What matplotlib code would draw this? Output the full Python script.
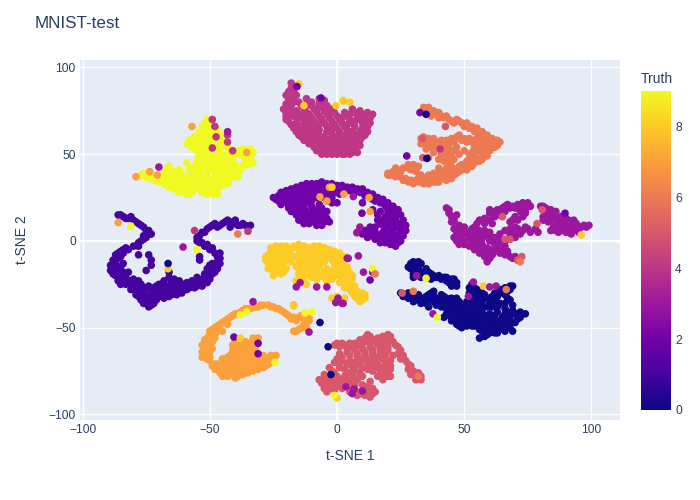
# t-SNE scatter of the MNIST test set, coloured by true digit

import matplotlib
matplotlib.use("Agg")
import matplotlib.pyplot as plt
from matplotlib.colors import LinearSegmentedColormap

PLASMA = ["#0d0887", "#46039f", "#7201a8", "#9c179e", "#bd3786",
          "#d8576b", "#ed7953", "#fb9f3a", "#fdca26", "#f0f921"]
TEXT = "#2a3f5f"

digit_0 = [(29, -13), (31, -14), (33, -13), (29, -16), (32, -16), (35, -16), (30, -19), (33, -19), (30, -21), (33, -21),
           (36, -18), (38, -20), (36, -21), (40, -20), (41, -22), (43, -21), (45, -22), (46, -24), (44, -24), (47, -26), (45, -26),
           (25, -30), (27, -31), (29, -31), (31, -32), (28, -33), (33, -33), (30, -35), (33, -36), (35, -32), (37, -30), (37, -33),
           (35, -36), (38, -35), (36, -38), (40, -34), (42, -32), (39, -37), (42, -36), (44, -35), (47, -33), (45, -37), (43, -39),
           (46, -39), (48, -37), (50, -38), (42, -44), (44, -43), (46, -44), (48, -42), (50, -42), (52, -40), (47, -46), (49, -45),
           (52, -44), (48, -49), (50, -48), (52, -47), (54, -46), (53, -25), (55, -28), (54, -31), (52, -30), (57, -30), (55, -34),
           (58, -33), (53, -37), (56, -37), (60, -36), (54, -41), (57, -41), (60, -42), (55, -44), (58, -45), (61, -46), (56, -48),
           (59, -49), (62, -50), (64, -48), (57, -52), (60, -53), (58, -55), (56, -56), (63, -53), (66, -52), (69, -52), (67, -48),
           (70, -47), (72, -44), (74, -42), (70, -42), (68, -44), (65, -44), (63, -41), (66, -39), (69, -37), (64, -36), (67, -33),
           (62, -33), (65, -30), (68, -28), (69, -26), (66, -27), (62, -30),
           (30, -12), (32, -12), (28, -15), (31, -17), (34, -18), (31, -20), (34, -20), (37, -19), (39, -21), (37, -22), (42, -21),
           (44, -23), (46, -22), (47, -24), (45, -25), (43, -23), (26, -32), (28, -30), (30, -33), (32, -31), (34, -34), (32, -34),
           (36, -31), (38, -32), (36, -34), (38, -29), (39, -33), (41, -31), (43, -33), (41, -35), (43, -37), (45, -33), (46, -35),
           (48, -35), (44, -38), (41, -38), (47, -39), (49, -40), (51, -36), (45, -41), (47, -43), (49, -43), (51, -44), (53, -42),
           (45, -46), (43, -42), (50, -46), (47, -48), (49, -50), (51, -49), (53, -49), (55, -46), (52, -27), (54, -27), (52, -33),
           (54, -33), (56, -31), (58, -31), (60, -33), (62, -35), (51, -35), (53, -35), (55, -36), (57, -35), (59, -38), (61, -38),
           (63, -38), (52, -38), (55, -39), (57, -38), (53, -43), (56, -42), (58, -43), (60, -44), (62, -43), (64, -46), (66, -46),
           (68, -47), (55, -47), (57, -46), (59, -47), (61, -48), (63, -47), (66, -42), (67, -41), (69, -40), (72, -41), (71, -45),
           (68, -50), (65, -50), (62, -53), (60, -51), (58, -50), (56, -51), (54, -49), (59, -54), (61, -52), (64, -51), (66, -36),
           (68, -34), (66, -31), (63, -32), (64, -28), (67, -29), (68, -26), (61, -32)]
digit_1 = [(-86, 15), (-84, 14), (-82, 13), (-80, 12), (-78, 10), (-76, 8), (-75, 6), (-74, 4), (-75, 2), (-77, 0), (-78, -1),
           (-80, -3), (-83, -4), (-85, -6), (-87, -8), (-85, -9), (-88, -11), (-89, -14), (-89, -17), (-87, -17), (-85, -15),
           (-87, -20), (-85, -20), (-86, -23), (-83, -21), (-81, -24), (-83, -25), (-79, -26), (-78, -23), (-76, -29), (-78, -29),
           (-74, -26), (-72, -30), (-74, -32), (-77, -34), (-75, -35), (-73, -37), (-71, -34), (-69, -32), (-70, -28), (-67, -26),
           (-67, -30), (-65, -24), (-64, -28), (-62, -26), (-61, -30), (-59, -28), (-60, -25), (-57, -25), (-55, -24), (-53, -26),
           (-52, -22), (-50, -22), (-52, -19), (-49, -19), (-51, -16), (-48, -15), (-47, -12), (-46, -10), (-48, -7), (-50, -5),
           (-52, -3), (-54, -1), (-55, 2), (-53, 5), (-51, 7), (-49, 9), (-47, 8), (-45, 10), (-43, 12), (-41, 10), (-39, 9),
           (-37, 10), (-35, 8), (-78, -8), (-74, -8), (-73, -11), (-73, -14), (-75, -17), (-84, -13), (-54, -9), (-54, -11), (-66, -18),
           (-85, 15), (-83, 13), (-81, 14), (-79, 11), (-77, 9), (-74, 6), (-73, 4), (-76, 1), (-76, 3), (-78, -3), (-82, -5), (-84, -5),
           (-86, -7), (-86, -10), (-84, -7), (-87, -13), (-88, -16), (-86, -15), (-88, -19), (-86, -18), (-84, -18), (-84, -22),
           (-82, -23), (-85, -25), (-80, -27), (-80, -24), (-81, -28), (-77, -27), (-75, -27), (-77, -31), (-79, -31), (-75, -31),
           (-73, -28), (-72, -33), (-76, -36), (-74, -38), (-72, -36), (-70, -31), (-68, -29), (-68, -33), (-66, -28), (-65, -31),
           (-63, -29), (-63, -25), (-62, -29), (-60, -28), (-58, -27), (-59, -24), (-56, -27), (-55, -21), (-54, -24), (-51, -24),
           (-53, -22), (-50, -20), (-48, -18), (-50, -14), (-49, -13), (-47, -9), (-46, -7), (-49, -4), (-51, -2), (-53, -1), (-55, 0),
           (-54, 3), (-52, 5), (-50, 8), (-48, 10), (-46, 9), (-44, 11), (-42, 11), (-40, 12), (-38, 9), (-36, 9), (-34, 9), (-42, 8),
           (-72, -27), (-71, -26), (-69, -25), (-68, -23), (-66, -21), (-64, -22), (-62, -23), (-66, -32), (-63, -31), (-70, -25),
           (-65, -27), (-79, -29), (-82, -18), (-80, -22), (-77, -25), (-78, -32), (-73, -34), (-57, -23), (-55, -26), (-53, -24),
           (-50, -19), (-47, -16), (-46, -13), (-50, -17)]
digit_2 = [(-25, 25), (-23, 26), (-22, 28), (-20, 29), (-18, 30), (-16, 31), (-14, 32), (-12, 33), (-10, 33), (-8, 33), (-6, 34),
           (-4, 33), (-2, 33), (0, 32), (2, 32), (4, 31), (6, 31), (8, 30), (10, 30), (12, 28), (14, 27), (16, 25), (18, 24),
           (20, 22), (22, 20), (24, 18), (25, 15), (26, 12), (27, 9), (27, 6), (26, 3), (25, 0), (23, -3), (21, -2), (19, -1), (17, -1),
           (-23, 23), (-21, 25), (-19, 26), (-17, 27), (-15, 28), (-13, 29), (-11, 29), (-9, 29), (-7, 29), (-20, 22), (-18, 23),
           (-16, 24), (-13, 24), (-11, 25), (-8, 25), (-5, 28), (-3, 27), (-1, 28), (1, 27), (-19, 19), (-17, 20), (-15, 18),
           (-13, 19), (-10, 20), (-7, 21), (-4, 23), (-2, 22), (0, 22), (-16, 15), (-14, 14), (-12, 15), (-10, 16), (-7, 17),
           (-4, 17), (-13, 10), (-11, 12), (-9, 11), (-7, 12), (-5, 11), (-3, 11), (10, 22), (14, 24), (18, 22), (16, 12), (21, 12),
           (25, 10), (13, 5), (18, 5), (22, 5), (20, 0), (8, 5), (10, 4), (15, 8), (18, 9), (23, 8), (20, 17), (23, 14), (17, 17),
           (14, 18), (12, 2), (15, 1), (22, 1), (19, 3),
           (-24, 24), (-21, 27), (-19, 28), (-17, 29), (-15, 30), (-13, 31), (-11, 31), (-9, 31), (-7, 32), (-5, 32), (-3, 31), (-1, 31),
           (1, 30), (3, 30), (5, 29), (7, 28), (9, 28), (11, 26), (13, 25), (15, 23), (17, 22), (19, 20), (21, 18), (22, 16), (23, 12),
           (16, 15), (19, 14), (22, 11), (24, 8), (25, 5), (24, 2), (21, 7), (19, 7), (17, 10), (15, 5), (13, 8), (11, 6), (16, 3), (18, 1),
           (20, 3), (22, -1), (24, -1), (17, 1), (14, 3), (20, 10), (18, 12), (23, 3), (25, 7), (21, 15), (-22, 21), (-20, 24), (-18, 21),
           (-16, 21), (-14, 22), (-12, 22), (-10, 23), (-9, 27), (-7, 26), (-14, 26), (-12, 27), (-5, 25), (-2, 25), (-18, 17), (-16, 17),
           (-14, 16), (-12, 17), (-9, 18), (-6, 19), (-15, 12), (-13, 13), (-10, 14), (-8, 14), (-11, 10), (-8, 9), (-6, 9), (-4, 13), (-6, 15)]
digit_3 = [(43, 19), (44, 16), (45, 14), (47, 15), (46, 11), (48, 9), (46, 7), (50, 8), (47, 3), (49, 4), (47, 0), (49, 0), (52, 2),
           (50, -2), (52, -3), (54, -5), (56, -7), (58, -9), (59, -12), (60, -8), (62, -6), (64, -7), (66, -8), (68, -9), (71, -11),
           (55, 10), (53, 7), (56, 6), (58, 3), (55, 1), (53, -1), (57, -2), (60, 0), (59, -4), (62, -2), (64, 1), (66, -3), (68, 4),
           (66, 6), (70, 2), (58, 13), (60, 16), (62, 14), (61, 10), (63, 18), (65, 19), (67, 21), (69, 20), (71, 21), (73, 22),
           (75, 22), (76, 20), (74, 18), (73, 14), (70, 14), (68, 11), (70, 8), (73, 6), (76, 5), (79, 5), (80, 20), (82, 19),
           (84, 18), (86, 17), (84, 15), (81, 14), (83, 11), (86, 13), (88, 14), (90, 13), (93, 12), (91, 9), (88, 10), (85, 8),
           (84, 6), (87, 5), (90, 5), (93, 6), (95, 5), (96, 8), (99, 9), (93, 9),
           (44, 18), (46, 13), (45, 11), (47, 5), (49, 7), (46, 2), (48, 1), (50, 0), (51, 4), (48, -2), (53, 1), (54, -2), (55, -4), (57, -4),
           (58, -6), (60, -5), (60, -10), (61, -8), (63, -5), (65, -6), (67, -6), (69, -10), (70, -9), (54, 8), (52, 5), (54, 4), (56, 3),
           (58, 6), (60, 5), (57, 1), (60, 3), (62, 2), (64, 4), (55, -1), (64, -2), (66, 0), (68, 1), (70, 5), (72, 4), (68, 7), (56, 12),
           (58, 10), (60, 12), (60, 18), (62, 17), (64, 17), (66, 20), (64, 15), (66, 17), (68, 19), (70, 19), (72, 19), (72, 17), (74, 16),
           (71, 12), (69, 12), (71, 7), (74, 8), (75, 7), (78, 7), (81, 20), (83, 17), (85, 15), (82, 15), (81, 12), (84, 12), (87, 12),
           (89, 11), (91, 12), (94, 10), (92, 7), (89, 8), (86, 9), (86, 6), (88, 6), (90, 7), (92, 4), (94, 7), (97, 9), (98, 8), (95, 8)]
digit_4 = [(-18, 91), (-17, 88), (-19, 86), (-16, 84), (-19, 82), (-20, 79), (-17, 80), (-14, 78), (-19, 76), (-16, 75), (-13, 76),
           (-10, 78), (-7, 79), (-5, 80), (-20, 72), (-18, 72), (-15, 71), (-11, 73), (-8, 74), (-5, 75), (-2, 76), (-19, 69),
           (-16, 68), (-13, 68), (-9, 69), (-6, 70), (-3, 71), (0, 72), (3, 74), (6, 76), (9, 75), (12, 74), (14, 73), (-17, 65),
           (-14, 64), (-11, 65), (-7, 64), (-4, 66), (-1, 67), (2, 68), (5, 70), (8, 71), (11, 70), (13, 68), (-15, 61), (-12, 60),
           (-9, 61), (-5, 60), (-2, 62), (1, 63), (4, 64), (7, 66), (10, 65), (11, 61), (-11, 56), (-8, 56), (-5, 55), (-2, 56),
           (1, 58), (4, 58), (7, 60), (9, 58), (-8, 52), (-5, 52), (-2, 52), (1, 53), (3, 50), (5, 53), (7, 54), (8, 51), (0, 50), (-4, 50),
           (-18, 88), (-20, 84), (-17, 86), (-18, 83), (-18, 78), (-15, 80), (-12, 78), (-9, 76), (-6, 77), (-4, 78), (-21, 76), (-17, 73),
           (-14, 73), (-13, 72), (-10, 71), (-7, 72), (-4, 73), (-1, 74), (2, 71), (5, 73), (8, 73), (11, 72), (13, 71), (-20, 70), (-18, 67),
           (-15, 66), (-12, 66), (-9, 66), (-5, 68), (-2, 69), (1, 70), (4, 67), (7, 69), (10, 68), (12, 66), (-16, 63), (-13, 62), (-10, 63),
           (-7, 61), (-4, 63), (0, 60), (3, 61), (6, 63), (9, 63), (12, 63), (-13, 58), (-10, 58), (-7, 58), (-3, 58), (0, 55), (3, 55), (6, 57),
           (9, 55), (-9, 54), (-6, 54), (-3, 54), (2, 52), (5, 50),
           (-12, 82), (-10, 80), (-7, 82), (-5, 81), (-16, 71), (-12, 70), (-10, 68), (-7, 67), (-3, 65), (0, 65), (3, 66), (6, 68), (9, 70),
           (-12, 63), (-8, 63), (-2, 60), (2, 60), (5, 61), (8, 61), (10, 60), (-10, 60), (-9, 58), (-6, 60), (-5, 57), (-1, 58), (2, 56), (5, 56),
           (8, 56), (-6, 50), (-2, 50), (2, 50), (6, 51), (-1, 54), (4, 52), (-20, 74), (-18, 75), (-12, 74), (-8, 76), (-3, 74), (4, 72), (7, 74),
           (10, 73), (-2, 65), (-14, 60)]
digit_5 = [(-1, -60), (1, -61), (3, -60), (5, -59), (7, -59), (9, -57), (11, -56), (12, -54), (14, -57), (16, -56), (18, -55), (20, -54),
           (21, -57), (23, -60), (25, -63), (26, -66), (27, -69), (29, -72), (30, -75), (31, -78), (33, -78), (1, -65), (4, -64),
           (7, -63), (10, -62), (13, -61), (16, -60), (19, -60), (-1, -70), (2, -69), (5, -69), (8, -67), (11, -66), (14, -65),
           (17, -64), (20, -63), (22, -66), (3, -74), (6, -72), (9, -71), (12, -70), (15, -69), (18, -68), (20, -71), (-2, -75),
           (-5, -77), (-7, -80), (-3, -79), (0, -78), (3, -78), (6, -77), (9, -76), (12, -74), (15, -73), (18, -73), (21, -74),
           (17, -77), (20, -78), (-5, -83), (-2, -82), (2, -82), (5, -81), (8, -80), (10, -83), (13, -81), (-4, -87), (-1, -86),
           (6, -85), (9, -87), (12, -86), (14, -88), (11, -89),
           (0, -59), (2, -59), (4, -62), (6, -61), (8, -60), (10, -59), (12, -58), (13, -55), (15, -58), (17, -58), (19, -57), (21, -55),
           (22, -58), (24, -61), (24, -65), (25, -68), (28, -71), (28, -74), (29, -77), (32, -76), (31, -80), (33, -80), (2, -67), (5, -66),
           (8, -65), (11, -64), (14, -63), (17, -62), (20, -61), (19, -66), (21, -69), (4, -71), (7, -70), (10, -68), (13, -68), (16, -67),
           (19, -70), (-3, -73), (1, -73), (4, -76), (7, -74), (10, -73), (13, -72), (16, -71), (21, -72), (19, -75), (17, -75), (21, -78),
           (19, -78), (-1, -76), (-4, -80), (-6, -82), (-2, -77), (1, -80), (4, -80), (7, -79), (10, -78), (-3, -85), (-5, -85), (0, -84),
           (3, -83), (7, -83), (12, -84), (14, -85), (8, -89), (10, -88), (13, -90), (15, -87),
           (0, -68), (1, -71), (6, -75), (14, -75), (16, -78), (18, -80), (-1, -81), (2, -85), (5, -87), (7, -86), (18, -62), (-3, -82), (-5, -80)]
digit_6 = [(34, 77), (36, 77), (35, 74), (38, 75), (40, 74), (40, 71), (42, 71), (44, 70), (47, 70), (49, 68), (51, 68), (53, 66),
           (55, 65), (57, 63), (59, 61), (61, 59), (63, 58), (64, 57), (61, 56), (62, 54), (59, 54), (58, 51), (57, 49), (55, 47),
           (54, 45), (52, 44), (50, 42), (48, 40), (46, 38), (44, 37), (42, 36), (40, 34), (38, 34), (36, 33), (34, 33), (32, 34),
           (30, 33), (28, 34), (26, 35), (25, 37), (23, 37), (21, 38), (20, 39), (22, 40), (24, 41), (26, 42), (28, 42), (30, 44),
           (32, 43), (31, 40), (33, 38), (35, 36), (37, 37), (39, 38), (41, 40), (43, 42), (44, 45), (42, 46), (45, 43), (47, 41),
           (49, 44), (51, 46), (53, 48), (55, 52), (56, 55), (57, 58), (59, 58), (33, 59), (35, 57), (37, 58), (39, 57), (41, 58),
           (43, 58), (45, 59), (47, 60), (49, 58), (51, 57), (53, 57), (55, 59), (33, 56), (37, 54), (39, 55), (42, 54), (44, 53),
           (46, 52), (48, 50), (50, 52), (35, 53), (38, 51), (41, 50), (44, 49), (46, 47), (52, 50), (54, 54), (40, 47), (36, 48),
           (35, 76), (37, 75), (37, 72), (39, 73), (41, 72), (43, 72), (45, 69), (46, 68), (48, 69), (50, 66), (52, 65), (54, 63), (56, 61),
           (58, 60), (60, 57), (62, 57), (63, 55), (60, 52), (59, 49), (57, 47), (56, 46), (53, 43), (51, 41), (49, 41), (47, 39), (45, 36),
           (43, 35), (41, 36), (39, 34), (37, 34), (35, 34), (33, 35), (31, 35), (29, 35), (27, 36), (24, 38), (22, 38), (20, 38), (23, 42),
           (25, 40), (28, 44), (29, 41), (34, 36), (32, 36), (36, 38), (38, 39), (40, 42), (42, 39), (44, 39), (46, 41), (48, 43), (50, 44),
           (52, 47), (54, 49), (56, 52), (58, 55), (34, 60), (36, 59), (38, 59), (40, 56), (42, 56), (44, 56), (46, 57), (48, 61), (50, 59),
           (52, 59), (54, 58), (34, 58), (36, 55), (41, 53), (43, 51), (45, 50), (43, 47), (47, 54), (53, 51)]
digit_7 = [(-17, -52), (-15, -51), (-13, -49), (-12, -47), (-11, -44), (-13, -45), (-14, -43), (-16, -46), (-18, -45), (-20, -42),
           (-22, -40), (-24, -39), (-26, -38), (-29, -37), (-31, -38), (-33, -38), (-35, -39), (-37, -40), (-39, -42), (-41, -43),
           (-43, -45), (-45, -47), (-47, -49), (-49, -51), (-47, -52), (-50, -54), (-48, -56), (-52, -57), (-50, -59), (-53, -60),
           (-51, -62), (-53, -64), (-51, -66), (-53, -67), (-50, -69), (-49, -72), (-47, -74), (-45, -76), (-45, -78), (-43, -78),
           (-41, -77), (-39, -78), (-37, -77), (-35, -76), (-33, -75), (-31, -74), (-29, -73), (-27, -71), (-25, -69), (-24, -66),
           (-26, -66), (-29, -69), (-32, -71), (-35, -72), (-38, -73), (-41, -74), (-44, -73), (-46, -71), (-43, -70), (-40, -71),
           (-45, -68), (-42, -66), (-40, -68), (-37, -69), (-34, -68), (-41, -63), (-39, -60), (-39, -64), (-36, -65), (-33, -64),
           (-32, -61), (-32, -57), (-34, -59), (-37, -60), (-49, -62), (-43, -48), (-45, -52), (-17, -37),
           (-16, -52), (-14, -50), (-12, -50), (-11, -46), (-12, -44), (-13, -48), (-15, -44), (-17, -44), (-19, -43), (-21, -41), (-23, -39),
           (-25, -38), (-27, -37), (-30, -37), (-32, -38), (-34, -39), (-36, -39), (-38, -41), (-40, -42), (-42, -44), (-44, -46), (-46, -48),
           (-48, -50), (-50, -52), (-48, -54), (-51, -56), (-49, -58), (-52, -59), (-51, -61), (-52, -63), (-50, -64), (-52, -66), (-50, -67),
           (-51, -68), (-48, -71), (-48, -74), (-46, -76), (-44, -77), (-42, -76), (-40, -79), (-38, -75), (-36, -76), (-34, -74), (-32, -74),
           (-30, -72), (-28, -72), (-26, -70), (-25, -67), (-27, -68), (-30, -70), (-33, -69), (-36, -71), (-39, -72), (-42, -72), (-44, -71),
           (-44, -74), (-41, -69), (-38, -67), (-38, -70), (-35, -66), (-41, -66), (-40, -62), (-38, -62), (-35, -62), (-34, -62), (-33, -60),
           (-31, -56), (-36, -58),
           (-47, -71), (-45, -72), (-43, -75), (-41, -72), (-39, -75), (-37, -73), (-35, -74), (-33, -72), (-31, -70), (-29, -71), (-43, -67),
           (-37, -66), (-31, -66), (-29, -66), (-33, -66), (-40, -58), (-36, -62), (-41, -60), (-33, -56)]
digit_8 = [(-24, -3), (-22, -3), (-20, -5), (-26, -6), (-23, -7), (-28, -9), (-25, -10), (-22, -10), (-19, -8), (-27, -13),
           (-24, -13), (-21, -13), (-18, -12), (-26, -16), (-23, -16), (-20, -16), (-25, -20), (-22, -19), (-17, -3), (-15, -5),
           (-16, -9), (-13, -7), (-11, -4), (-9, -3), (-7, -3), (-5, -4), (-3, -5), (-1, -6), (1, -7), (2, -10), (-11, -8), (-8, -7),
           (-5, -8), (-14, -11), (-11, -12), (-8, -11), (-5, -12), (-2, -11), (0, -13), (3, -13), (-16, -15), (-13, -15), (-10, -15),
           (-7, -15), (-4, -16), (-1, -16), (2, -17), (5, -18), (-15, -19), (-12, -19), (-9, -19), (-6, -20), (-3, -20), (0, -20),
           (3, -21), (6, -22), (-16, -23), (-13, -23), (-8, -22), (-4, -23), (1, -24), (4, -25), (7, -26), (5, -28), (8, -29),
           (10, -30), (7, -32), (11, -33), (9, -35), (-2, -33), (0, -32), (3, -33),
           (-24, -5), (-22, -5), (-26, -4), (-20, -3), (-18, -5), (-27, -8), (-24, -9), (-21, -8), (-18, -8), (-28, -11), (-26, -11), (-23, -12),
           (-20, -11), (-25, -15), (-22, -15), (-27, -16), (-24, -18), (-21, -18), (-15, -2), (-13, -3), (-14, -8), (-12, -5), (-10, -6), (-8, -5),
           (-6, -6), (-4, -7), (-2, -8), (0, -9), (3, -9), (-9, -9), (-6, -10), (-3, -9), (-12, -10), (-10, -11), (-7, -13), (-1, -13), (1, -11),
           (2, -15), (4, -15), (-15, -13), (-12, -13), (-9, -13), (-14, -17), (-11, -17), (-8, -17), (-5, -18), (-2, -18), (1, -18), (4, -19),
           (6, -20), (-14, -21), (-10, -21), (-5, -21), (-2, -22), (2, -22), (5, -24), (-12, -25), (3, -27), (6, -28), (6, -30), (9, -31), (11, -31),
           (8, -33), (10, -34)]
digit_9 = [(-50, 69), (-52, 68), (-53, 66), (-50, 65), (-49, 62), (-54, 63), (-52, 60), (-55, 58), (-50, 58), (-57, 58), (-59, 56),
           (-54, 55), (-50, 55), (-47, 56), (-46, 53), (-55, 52), (-52, 50), (-49, 50), (-46, 50), (-43, 50), (-41, 48), (-54, 47),
           (-50, 46), (-47, 46), (-44, 46), (-56, 43), (-53, 42), (-50, 42), (-47, 42), (-44, 43), (-58, 41), (-39, 52), (-36, 51),
           (-33, 51), (-35, 48), (-33, 45), (-37, 43), (-39, 39), (-41, 37), (-39, 37), (-43, 39), (-78, 37), (-76, 39), (-75, 37),
           (-73, 38), (-72, 35), (-70, 34), (-68, 33), (-66, 36), (-65, 32), (-64, 30), (-62, 28), (-60, 28), (-58, 30), (-66, 43),
           (-68, 39), (-64, 40), (-62, 41), (-59, 37), (-62, 36), (-60, 33), (-56, 33), (-54, 30), (-52, 31), (-50, 29), (-48, 28),
           (-47, 30), (-54, 37), (-51, 37), (-48, 36), (-45, 35), (-52, 34), (-48, 33), (-45, 32), (-57, 36), (-44, 40),
           (-51, 70), (-51, 67), (-52, 64), (-50, 62), (-53, 61), (-48, 60), (-51, 57), (-53, 57), (-56, 56), (-58, 58), (-48, 54), (-51, 53),
           (-53, 53), (-45, 55), (-57, 54), (-48, 48), (-51, 48), (-54, 50), (-45, 48), (-42, 49), (-39, 50), (-37, 53), (-34, 53), (-37, 49),
           (-34, 48), (-35, 44), (-38, 41), (-36, 45), (-40, 40), (-42, 41), (-55, 45), (-52, 45), (-49, 44), (-46, 44), (-57, 42), (-54, 40),
           (-51, 40), (-48, 39), (-45, 39), (-77, 38), (-74, 36), (-71, 36), (-69, 36), (-67, 34), (-66, 31), (-63, 32), (-61, 30), (-59, 27),
           (-57, 28), (-65, 38), (-63, 38), (-67, 41), (-61, 38), (-58, 34), (-60, 36), (-56, 36), (-55, 32), (-53, 28), (-51, 27), (-49, 27),
           (-47, 27), (-52, 36), (-50, 34), (-47, 34), (-46, 37), (-44, 37), (-42, 36), (-50, 31), (-56, 30), (-62, 33), (-64, 34), (-55, 39), (-53, 35),
           (-56, 60), (-54, 59), (-47, 64), (-46, 61), (-45, 59), (-44, 56), (-43, 54), (-42, 52), (-40, 44), (-42, 45), (-46, 41), (-48, 31),
           (-43, 33), (-58, 33), (-56, 39), (-54, 43), (-49, 41), (-59, 45), (-55, 47), (-53, 52), (-68, 36), (-64, 36), (-66, 34), (-60, 31),
           (-58, 27), (-50, 52)]

# points that sit away from their own digit's cluster
stray_x = [-15, -15.7, -6.3, -13, -0.4, 2.4, -49, -43, -43, -49, -41, -47.5, -43, -48, -35.5, -57, -70, -73.6, -79, -70.6, -3, -2,
           -6.7, -4, 2.7, -86, -81, -56, -39, -35, 2.5, 5, 32.6, 35, 42.6, 33.7, 27.4, 33.7, 35.3, 40.5, 12.6, 6.4, 9.8, 13, 7.8, 9,
           65, 80.6, 78.6, 89.6, 96, 68, 66, -60.5, -55, -66.4, -66.4, -14.5, -16, -8, -4, 4, 1, 0.4, 2, -0.5, -12.6, -10, -6.7,
           -11, -17, -35.5, -38, -33, -40.5, -38, -31, -31, -24.4, -3.5, -2.4, 3.5, 0, -1, 6.7, 6, 10, 32, 31.3, 35, 25.6, 30, 57.5,
           60, 62.5, 66.5, 53.6, 51.6, 37.7, 39.4, 71, 72.6, 72, 8.4, 4.4, 10.4, 14, 14, 15, 13, 2.4]
stray_y = [90.5, 89, 82.4, 78, 78, 81, 70, 61, 63, 53.6, 52, 60, 57, 66, 51, 66, 42.6, 40, 37, 38, 31, 31, 25.4, 23, 27, 10.6, 8.6, 6,
           4, 5.6, 80.5, 80, 74, 73, 66, 59, 49, 48, 47.6, 53, 25, 25.6, 16, 17, 4.7, 8, 14, 18, 10, 16, 3.5, 1, 1, -3.5, -5, -16,
           -13, -24, -26.5, -26.5, -26.5, -10, -8, -33, -36, -35.5, -41.5, -41, -47, -52.5, -37.5, -41, -42.6, -35, -55.4, -56,
           -59, -65, -70, -61, -77, -84, -90.5, -89, -85.3, -88, -86.5, -78, -20, -21.5, -30, -29, -26, -26.5, -26, -28, -23.7, -32,
           -42, -44, -11, -9, -12, -8.6, -10, -18, -18, -16, -19, -22.5, -36]
stray_truth = [8, 2, 2, 8, 8, 8, 4, 4, 3, 4, 4, 4, 4, 4, 7, 7, 3, 7, 7, 7, 7, 8, 7, 7, 7, 7, 9, 4, 6, 4, 8, 8, 2, 0, 5, 5, 2, 5, 0, 4,
               7, 3, 2, 7, 3, 3, 5, 5, 5, 2, 8, 5, 5, 3, 9, 8, 0, 3, 3, 3, 3, 3, 8, 3, 3, 3, 9, 9, 0, 3, 8, 9, 9, 3, 2, 8, 2, 2, 9,
               0, 0, 3, 8, 9, 3, 3, 3, 6, 3, 9, 5, 6, 8, 3, 3, 6, 3, 3, 3, 9, 5, 5, 6, 3, 3, 3, 3, 9, 6, 2, 3]

clusters = [digit_0, digit_1, digit_2, digit_3, digit_4, digit_5, digit_6, digit_7, digit_8, digit_9]

if __name__ == "__main__":
    plt.rcParams["font.family"] = ["Liberation Sans", "DejaVu Sans"]
    cmap = LinearSegmentedColormap.from_list("plasma_plotly", PLASMA)

    fig = plt.figure(figsize=(7, 5), dpi=100)
    ax = fig.add_axes([80 / 700, 80 / 500, 540 / 700, 360 / 500], facecolor="#E5ECF6")

    xs, ys, truth = [], [], []
    for digit, points in enumerate(clusters):
        xs += [p[0] for p in points]
        ys += [p[1] for p in points]
        truth += [digit] * len(points)
    xs += stray_x
    ys += stray_y
    truth += stray_truth

    sc = ax.scatter(xs, ys, c=truth, cmap=cmap, vmin=0, vmax=9, s=30, linewidths=0, zorder=3)

    ax.set_xlim(-101, 111.2)
    ax.set_ylim(-103.2, 104.3)
    ax.set_xticks([-100, -50, 0, 50, 100])
    ax.set_yticks([-100, -50, 0, 50, 100])
    ax.grid(True, color="white", linewidth=1, zorder=1)
    ax.axhline(0, color="white", linewidth=1.6, zorder=2)
    ax.axvline(0, color="white", linewidth=1.6, zorder=2)
    ax.tick_params(length=0, labelsize=8.64, labelcolor=TEXT, pad=3)
    for side in ax.spines.values():
        side.set_visible(False)

    fig.text(350 / 700, 1 - 456 / 500, "t-SNE 1", color=TEXT, fontsize=10, ha="center", va="center")
    fig.text(22 / 700, 1 - 240 / 500, "t-SNE 2", color=TEXT, fontsize=10, rotation=90, ha="center", va="center")
    fig.text(35 / 700, 1 - 24 / 500, "MNIST-test", color=TEXT, fontsize=12.24, ha="left", va="center")

    cax = fig.add_axes([641 / 700, 90 / 500, 30 / 700, 319 / 500])
    cbar = fig.colorbar(sc, cax=cax)
    cbar.set_ticks([0, 2, 4, 6, 8])
    cbar.outline.set_visible(False)
    cax.tick_params(length=0, labelsize=8.64, labelcolor=TEXT, pad=3)
    fig.text(641 / 700, 1 - 79 / 500, "Truth", color=TEXT, fontsize=10, ha="left", va="center")

    fig.savefig("out.png", dpi=100)
